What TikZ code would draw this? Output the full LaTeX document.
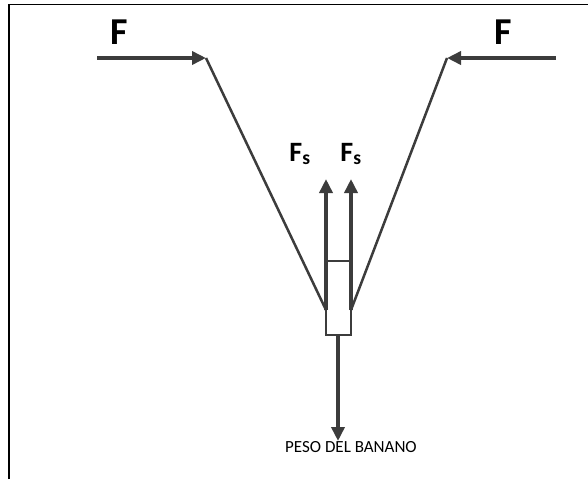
\documentclass[tikz,border=0pt]{standalone}
\usepackage{fontspec}
\setmainfont{Carlito}
\usetikzlibrary{arrows.meta}
\definecolor{ink}{HTML}{3C3C3C}
\tikzset{
  force/.style={draw=ink, line width=4pt, -{Triangle[length=14pt,width=13pt]}},
  rope/.style={draw=ink, line width=2.5pt},
  thin/.style={draw=ink, line width=1.6pt},
  lbl/.style={inner sep=0pt, font=\bfseries\fontsize{38}{38}\selectfont},
  slbl/.style={inner sep=0pt, font=\bfseries\fontsize{28}{28}\selectfont},
  wlbl/.style={inner sep=0pt, font=\fontsize{17}{17}\selectfont}
}
\begin{document}
\begin{tikzpicture}[x=1pt,y=-1pt]
\useasboundingbox (0,0) rectangle (588,479);
% frame
\draw[black, line width=1.5pt] (9,479) -- (9,4.5) -- (588,4.5);
% coordinates
\coordinate (lstart) at (97,58);
\coordinate (ltip) at (206,58);
\coordinate (rstart) at (556,58);
\coordinate (rtip) at (447,58);
\coordinate (lknot) at (326,310);
\coordinate (rknot) at (351,310);
\coordinate (lfs) at (326,179);
\coordinate (rfs) at (351,179);
\coordinate (bl) at (326,335);
\coordinate (br) at (351,335);
\coordinate (cl) at (326,261);
\coordinate (cr) at (351,261);
\coordinate (wtop) at (338,335);
\coordinate (wtip) at (338,441);
% ropes
\draw[rope] (ltip) -- (lknot);
\draw[rope] (rtip) -- (rknot);
% box
\draw[thin] (cl) -- (bl) -- (br) -- (cr);
\draw[thin] (cl) -- (cr);
% forces
\draw[force] (lstart) -- (ltip);
\draw[force] (rstart) -- (rtip);
\draw[force] (lknot) -- (lfs);
\draw[force] (rknot) -- (rfs);
\draw[force] (wtop) -- (wtip);
% labels
\node[lbl] (fl) at (119,32) {F};
\node[lbl] (fr) at (503,32) {F};
\node[slbl] (fs1) at (300,154) {F\textsubscript{s}};
\node[slbl] (fs2) at (351,154) {F\textsubscript{s}};
\node[wlbl, anchor=west] (peso) at (285,447) {PESO DEL BANANO};
\end{tikzpicture}
\end{document}
